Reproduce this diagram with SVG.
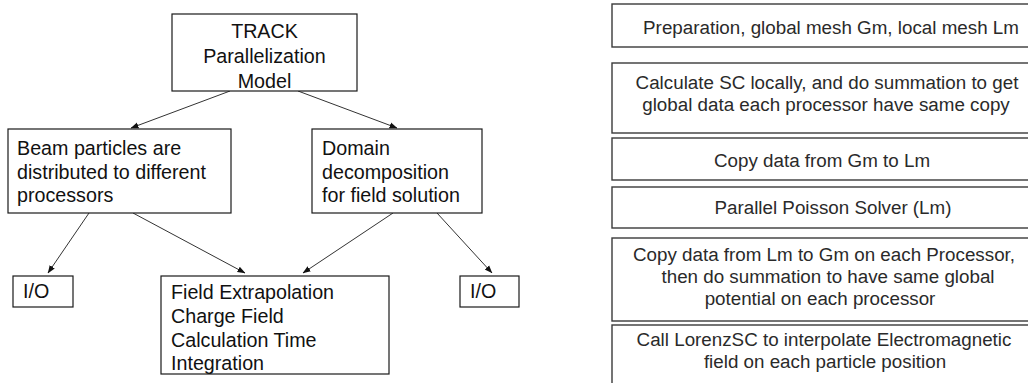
<svg xmlns="http://www.w3.org/2000/svg" width="1028" height="383" viewBox="0 0 1028 383">
<defs>
<style>
.box{fill:#fff;stroke:#1a1a1a;stroke-width:1.2}
.rbox{fill:#fff;stroke:#3a3a3a;stroke-width:1.4}
.t{font-family:"Liberation Sans",Arial,sans-serif;font-size:19.7px;fill:#111}
.r{font-family:"Liberation Sans",Arial,sans-serif;font-size:18.8px;fill:#2a2a2a;text-anchor:middle}
.c{text-anchor:middle}
.ln{stroke:#333;stroke-width:1;fill:none;marker-end:url(#ah)}
</style>
<marker id="ah" markerUnits="userSpaceOnUse" markerWidth="8" markerHeight="8" viewBox="0 0 8 8" refX="7.5" refY="4" orient="auto">
<path d="M0,1 L8,4 L0,7 Z" fill="#111"/>
</marker>
</defs>
<rect width="1028" height="383" fill="#fff"/>
<g id="connectors">
<line class="ln" x1="230" y1="91" x2="131" y2="128"/>
<line class="ln" x1="298" y1="91" x2="397" y2="128"/>
<line class="ln" x1="89" y1="213" x2="48" y2="273"/>
<line class="ln" x1="133" y1="213" x2="245" y2="273"/>
<line class="ln" x1="393" y1="213" x2="303" y2="273"/>
<line class="ln" x1="437" y1="213" x2="492" y2="273"/>
</g>
<g id="track">
<rect class="box" x="172" y="14" width="185" height="77"/>
<text class="t c" x="264.5" y="38">TRACK</text>
<text class="t c" x="264.5" y="63">Parallelization</text>
<text class="t c" x="264.5" y="87.5">Model</text>
</g>
<g id="beam">
<rect class="box" x="8" y="129" width="223" height="84"/>
<text class="t" x="17" y="155">Beam particles are</text>
<text class="t" x="17" y="179">distributed to different</text>
<text class="t" x="17" y="202">processors</text>
</g>
<g id="domain">
<rect class="box" x="312" y="129" width="170" height="84"/>
<text class="t" x="322" y="155">Domain</text>
<text class="t" x="322" y="179">decomposition</text>
<text class="t" x="322" y="202">for field solution</text>
</g>
<g id="io-left">
<rect class="box" x="13" y="276" width="60" height="31"/>
<text class="t" x="23" y="298">I/O</text>
</g>
<g id="field">
<rect class="box" x="161" y="276" width="228" height="98"/>
<text class="t" x="171" y="299">Field Extrapolation</text>
<text class="t" x="171" y="323">Charge Field</text>
<text class="t" x="171" y="347">Calculation Time</text>
<text class="t" x="171" y="370">Integration</text>
</g>
<g id="io-right">
<rect class="box" x="460" y="276" width="59" height="31"/>
<text class="t" x="470" y="298">I/O</text>
</g>
<g id="step1">
<rect class="rbox" x="612" y="4" width="430" height="43"/>
<text class="r" x="831" y="34">Preparation, global mesh Gm, local mesh Lm</text>
</g>
<g id="step2">
<rect class="rbox" x="612" y="63" width="430" height="70"/>
<text class="r" x="827" y="89">Calculate SC locally, and do summation to get</text>
<text class="r" x="826" y="111">global data each processor have same copy</text>
</g>
<g id="step3">
<rect class="rbox" x="612" y="138" width="430" height="42"/>
<text class="r" x="822" y="167">Copy data from Gm to Lm</text>
</g>
<g id="step4">
<rect class="rbox" x="612" y="187" width="430" height="41"/>
<text class="r" x="833" y="214">Parallel Poisson Solver (Lm)</text>
</g>
<g id="step5">
<rect class="rbox" x="612" y="238" width="430" height="83"/>
<text class="r" x="824" y="261">Copy data from Lm to Gm on each Processor,</text>
<text class="r" x="828" y="283">then do summation to have same global</text>
<text class="r" x="820" y="305">potential on each processor</text>
</g>
<g id="step6">
<rect class="rbox" x="612" y="325" width="430" height="85"/>
<text class="r" x="824" y="346">Call LorenzSC to interpolate Electromagnetic</text>
<text class="r" x="825" y="368">field on each particle position</text>
</g>
</svg>
